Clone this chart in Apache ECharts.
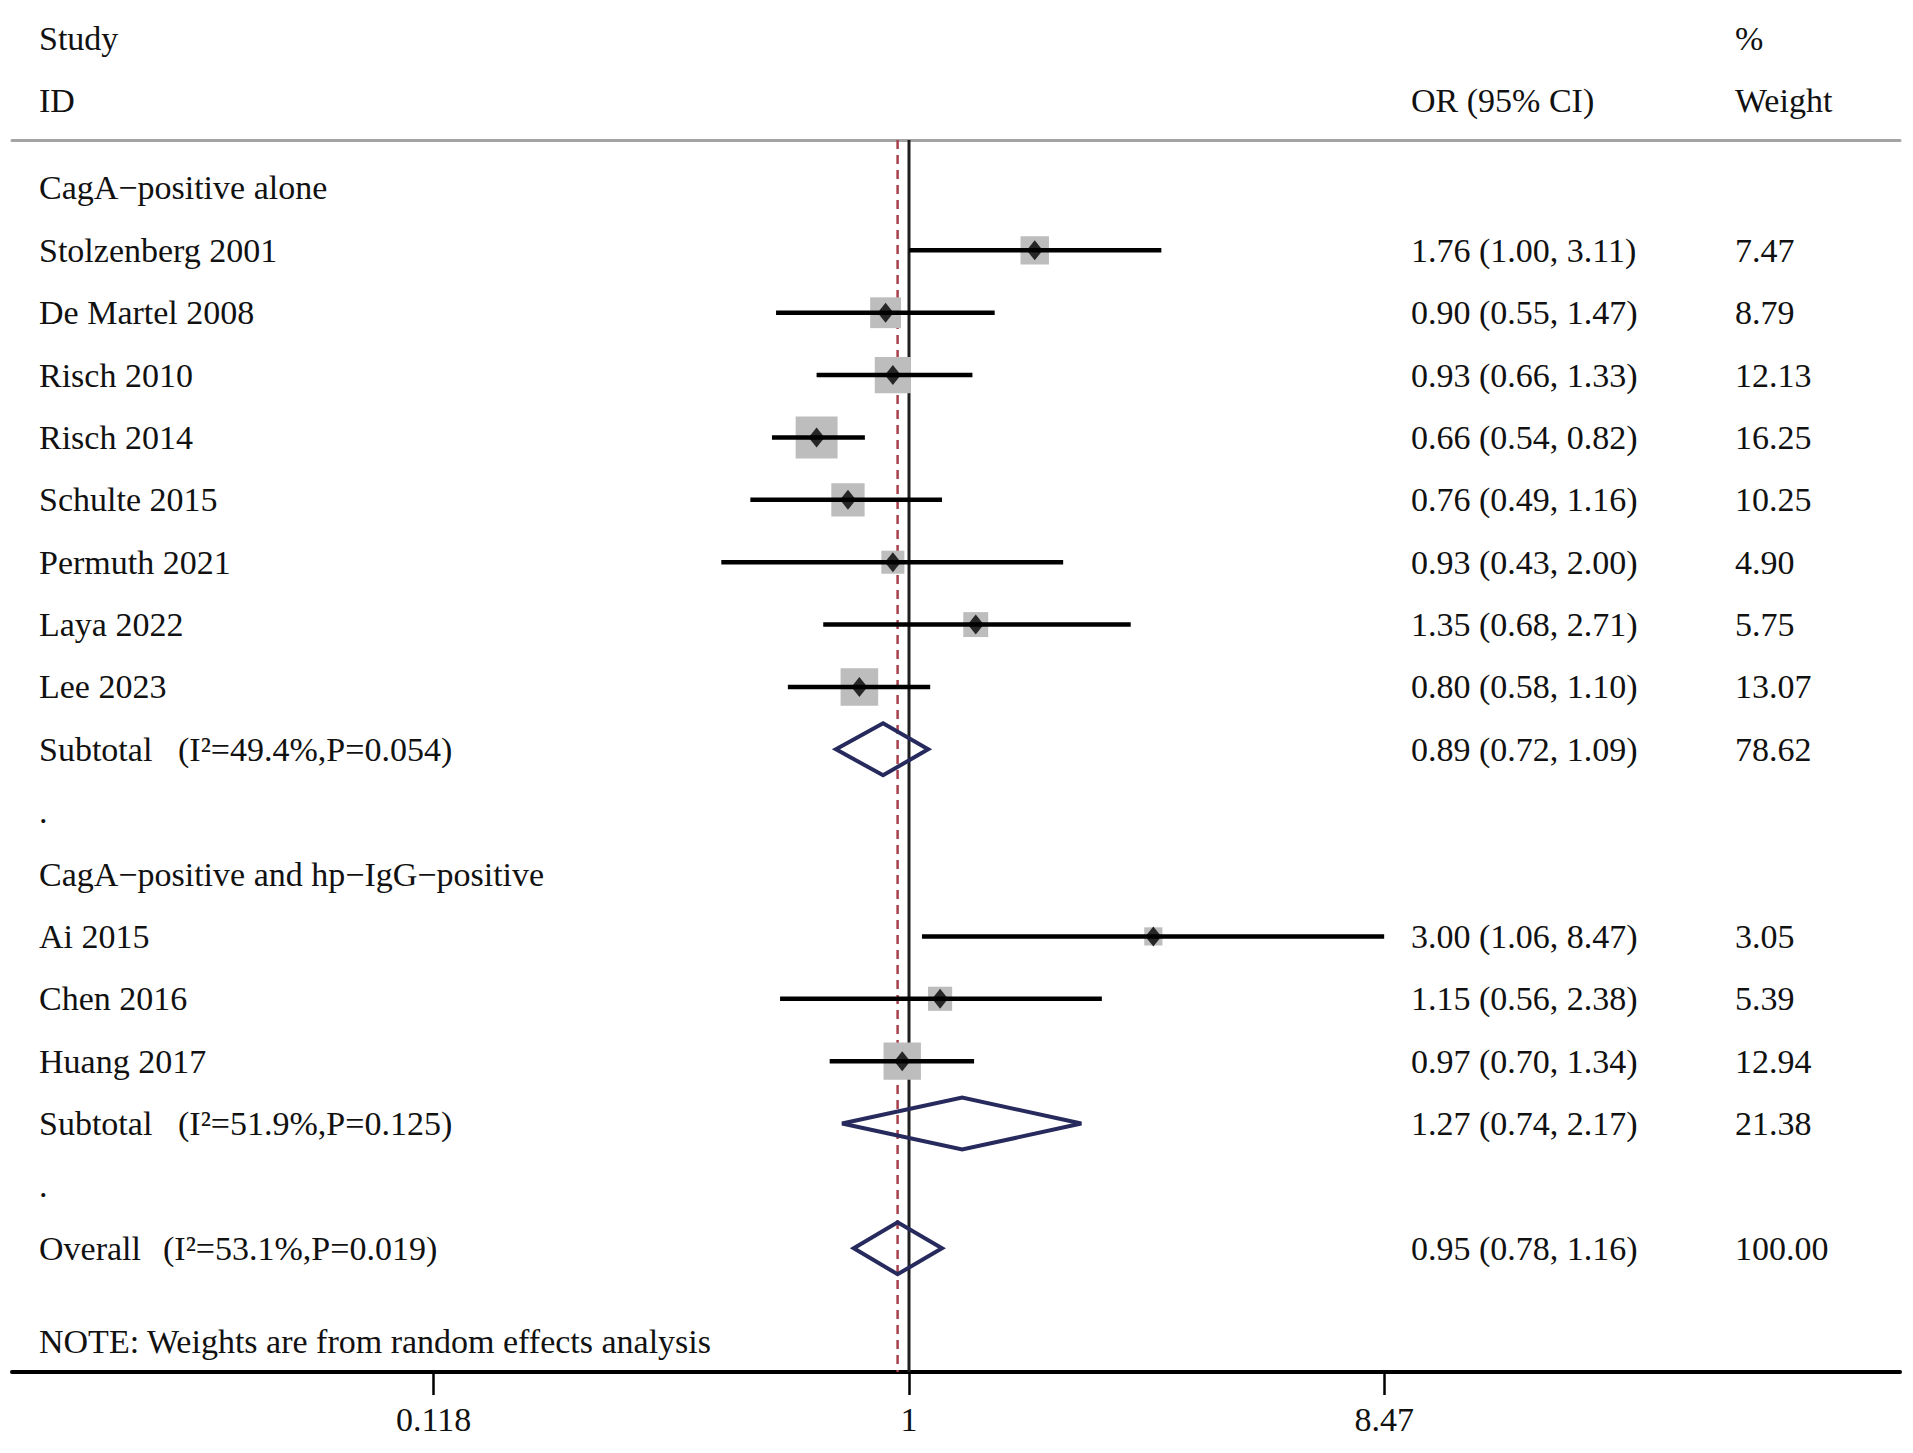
<!DOCTYPE html>
<html><head><meta charset="utf-8">
<script src="https://cdn.jsdelivr.net/npm/echarts@6/dist/echarts.min.js"></script>
<style>html,body{margin:0;padding:0;background:#fff}#c{width:1913px;height:1453px}</style>
</head><body><div id="c"></div>
<script>
// ---------- data ----------
const groupHeaders = ["CagA\u2212positive alone", "CagA\u2212positive and hp\u2212IgG\u2212positive"];
const groupHeaderRows = [0, 11];
const spacerRows = [10, 16];

const studies = ["Stolzenberg 2001","De Martel 2008","Risch 2010","Risch 2014","Schulte 2015","Permuth 2021","Laya 2022","Lee 2023","Ai 2015","Chen 2016","Huang 2017"];
const studyRows = [1,2,3,4,5,6,7,8,12,13,14];
const studyOR = [1.76,0.90,0.93,0.66,0.76,0.93,1.35,0.80,3.00,1.15,0.97];
const studyLo = [1.00,0.55,0.66,0.54,0.49,0.43,0.68,0.58,1.06,0.56,0.70];
const studyHi = [3.11,1.47,1.33,0.82,1.16,2.00,2.71,1.10,8.47,2.38,1.34];
const studyWeight = [7.47,8.79,12.13,16.25,10.25,4.90,5.75,13.07,3.05,5.39,12.94];

const pooledNames = ["Subtotal","Subtotal","Overall"];
const pooledHet = ["(I\u00B2=49.4%,P=0.054)","(I\u00B2=51.9%,P=0.125)","(I\u00B2=53.1%,P=0.019)"];
const pooledRows = [9,15,17];
const pooledOR = [0.89,1.27,0.95];
const pooledLo = [0.72,0.74,0.78];
const pooledHi = [1.09,2.17,1.16];
const pooledWeight = [78.62,21.38,100.00];

const tickValues = [0.118, 1, 8.47];
const tickLabels = ["0.118","1","8.47"];

const headerTexts = ["Study","ID","OR (95% CI)","%","Weight"];
const noteText = "NOTE: Weights are from random effects analysis";

// ---------- layout / style ----------
const FONT = '34px "Liberation Serif", "Times New Roman", serif';
const TXT = '#111111';
const COL_NAME = 39, COL_HET_SUB = 178, COL_HET_ALL = 163, COL_OR = 1411, COL_W = 1735;
const X_MIN = -4.0333, X_MAX = 4.4559;
const Y_MIN = -0.7696, Y_MAX = 18.984;
const BOX_K = 10.4;
const DIAMOND_HALF = 26;

const L = Math.log;
const fmt = v => v.toFixed(2);

// build table rows for text
const textRows = [];
groupHeaders.forEach((g,i)=>textRows.push({row:groupHeaderRows[i], name:g}));
spacerRows.forEach(r=>textRows.push({row:r, name:'.'}));
studies.forEach((s,i)=>textRows.push({row:studyRows[i], name:s,
  orText: fmt(studyOR[i])+' ('+fmt(studyLo[i])+', '+fmt(studyHi[i])+')', wText: fmt(studyWeight[i])}));
pooledNames.forEach((s,i)=>textRows.push({row:pooledRows[i], name:s, het:pooledHet[i], overall: s==='Overall',
  orText: fmt(pooledOR[i])+' ('+fmt(pooledLo[i])+', '+fmt(pooledHi[i])+')', wText: fmt(pooledWeight[i])}));

function txt(x, y, t){
  return {type:'text', x:x, y:y, style:{text:t, font:FONT, fill:TXT, align:'left', verticalAlign:'middle'}};
}

const chart = echarts.init(document.getElementById('c'), null, {renderer:'svg'});
chart.setOption({
  backgroundColor:'#ffffff',
  animation:false,
  grid:{left:12, right:13, top:140, bottom:81},
  xAxis:[{
    type:'value', min:X_MIN, max:X_MAX, position:'bottom',
    splitLine:{show:false},
    axisLine:{show:true, onZero:false, lineStyle:{color:'#000', width:4}},
    axisTick:{show:true, customValues:tickValues.map(L), length:23, lineStyle:{color:'#000', width:2.5}},
    axisLabel:{show:true, customValues:tickValues.map(L), margin:30,
      fontFamily:'"Liberation Serif", "Times New Roman", serif', fontSize:34, color:TXT,
      formatter:function(v){
        for(let i=0;i<tickValues.length;i++){ if(Math.abs(L(tickValues[i])-v)<1e-6) return tickLabels[i]; }
        return '';
      }}
  },{
    type:'value', min:X_MIN, max:X_MAX, position:'top',
    splitLine:{show:false},
    axisLine:{show:true, onZero:false, lineStyle:{color:'#a3a3a3', width:3}},
    axisTick:{show:false}, axisLabel:{show:false}
  }],
  yAxis:{type:'value', min:Y_MIN, max:Y_MAX, inverse:true, show:false},
  graphic:[
    {type:'text', left:COL_NAME, top:21, style:{text:headerTexts[0], font:FONT, fill:TXT}},
    {type:'text', left:COL_NAME, top:83, style:{text:headerTexts[1], font:FONT, fill:TXT}},
    {type:'text', left:COL_OR, top:83, style:{text:headerTexts[2], font:FONT, fill:TXT}},
    {type:'text', left:COL_W, top:21, style:{text:headerTexts[3], font:FONT, fill:TXT}},
    {type:'text', left:COL_W, top:83, style:{text:headerTexts[4], font:FONT, fill:TXT}},
    {type:'text', left:COL_NAME, top:1324, style:{text:noteText, font:FONT, fill:TXT}}
  ],
  series:[
    { // reference lines: null line at OR=1, dashed line at overall estimate
      type:'custom', name:'refLines', z:1, clip:false,
      data:[[L(1)],[L(pooledOR[2])]],
      encode:{x:0},
      renderItem:function(params, api){
        const v = api.value(0);
        const p1 = api.coord([v, Y_MIN]), p2 = api.coord([v, Y_MAX]);
        const dashed = params.dataIndex===1;
        return {type:'line', shape:{x1:p1[0], y1:p1[1], x2:p2[0], y2:p2[1]},
          style: dashed ? {stroke:'#a8414c', lineWidth:2.5, lineDash:[9,6]} : {stroke:'#1e1e1e', lineWidth:3}};
      }
    },
    { // weight boxes
      type:'custom', name:'boxes', z:2,
      data: studies.map((s,i)=>[L(studyOR[i]), studyRows[i], studyWeight[i]]),
      encode:{x:0, y:1},
      renderItem:function(params, api){
        const c = api.coord([api.value(0), api.value(1)]);
        const side = BOX_K*Math.sqrt(api.value(2));
        return {type:'rect', shape:{x:c[0]-side/2, y:c[1]-side/2, width:side, height:side},
          style:{fill:'#bdbdbd'}};
      }
    },
    { // confidence intervals
      type:'custom', name:'ci', z:3,
      data: studies.map((s,i)=>[L(studyLo[i]), L(studyHi[i]), studyRows[i]]),
      encode:{x:[0,1], y:2},
      renderItem:function(params, api){
        const a = api.coord([api.value(0), api.value(2)]);
        const b = api.coord([api.value(1), api.value(2)]);
        return {type:'line', shape:{x1:a[0], y1:a[1], x2:b[0], y2:b[1]},
          style:{stroke:'#000', lineWidth:4.5}};
      }
    },
    { // point estimates
      type:'scatter', name:'estimates', z:4,
      symbol:'diamond', symbolSize:[16,20],
      itemStyle:{color:'#000'},
      data: studies.map((s,i)=>[L(studyOR[i]), studyRows[i]])
    },
    { // pooled diamonds
      type:'custom', name:'pooled', z:4,
      data: pooledNames.map((s,i)=>[L(pooledLo[i]), L(pooledOR[i]), L(pooledHi[i]), pooledRows[i]]),
      encode:{x:[0,1,2], y:3},
      renderItem:function(params, api){
        const r = api.value(3);
        const a = api.coord([api.value(0), r]);
        const m = api.coord([api.value(1), r]);
        const b = api.coord([api.value(2), r]);
        return {type:'polygon', shape:{points:[[a[0],a[1]],[m[0],m[1]-DIAMOND_HALF],[b[0],b[1]],[m[0],m[1]+DIAMOND_HALF]]},
          style:{fill:'none', stroke:'#272a5c', lineWidth:4}};
      }
    },
    { // table text
      type:'custom', name:'table', z:5, clip:false,
      data: textRows.map(r=>[0, r.row]),
      encode:{x:0, y:1},
      renderItem:function(params, api){
        const r = textRows[params.dataIndex];
        const y = api.coord([0, r.row])[1];
        const ch = [txt(COL_NAME, y, r.name)];
        if(r.het) ch.push(txt(r.overall ? COL_HET_ALL : COL_HET_SUB, y, r.het));
        if(r.orText) ch.push(txt(COL_OR, y, r.orText));
        if(r.wText) ch.push(txt(COL_W, y, r.wText));
        return {type:'group', children:ch};
      }
    }
  ]
});
</script></body></html>
